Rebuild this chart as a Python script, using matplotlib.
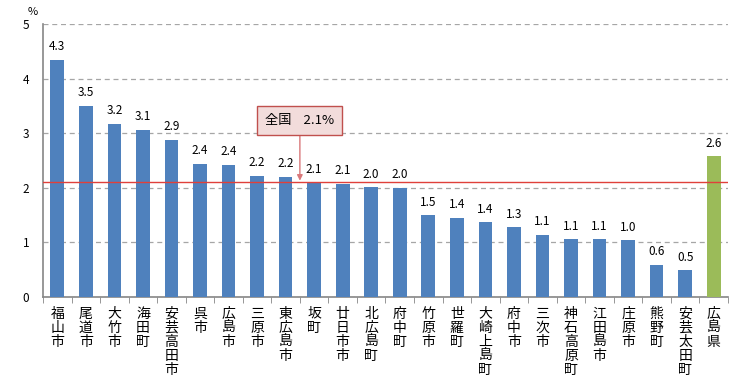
import numpy as np
import matplotlib.pyplot as plt
from matplotlib.ticker import FixedLocator

plt.rcParams['font.family'] = ['Noto Sans CJK JP', 'DejaVu Sans']

# データ
names = ['福山市', '尾道市', '大竹市', '海田町', '安芸高田市', '呉市', '広島市', '三原市',
         '東広島市', '坂町', '廿日市市', '北広島町', '府中町', '竹原市', '世羅町', '大崎上島町',
         '府中市', '三次市', '神石高原町', '江田島市', '庄原市', '熊野町', '安芸太田町', '広島県']
values = [4.34, 3.50, 3.17, 3.06, 2.88, 2.44, 2.42, 2.22, 2.20, 2.10, 2.07, 2.01, 2.00,
          1.50, 1.45, 1.37, 1.28, 1.14, 1.06, 1.06, 1.04, 0.59, 0.49, 2.58]
labels = ['4.3', '3.5', '3.2', '3.1', '2.9', '2.4', '2.4', '2.2', '2.2', '2.1', '2.1', '2.0', '2.0',
          '1.5', '1.4', '1.4', '1.3', '1.1', '1.1', '1.1', '1.0', '0.6', '0.5', '2.6']
national = 2.1

blue = '#4f81bd'
green = '#9bbb59'
colors = [blue] * (len(values) - 1) + [green]

fig = plt.figure(figsize=(7.56, 3.79), dpi=100)
ax = fig.add_axes([43 / 756, 1 - 297 / 379, (728 - 43) / 756, (297 - 24) / 379])

x = np.arange(len(values))
ax.bar(x, values, width=0.48, color=colors, zorder=3)
for xi, v, s in zip(x, values, labels):
    ax.text(xi, v + 0.12, s, ha='center', va='bottom', fontsize=8.5, zorder=4)

ax.axhline(national, color='#e0403a', lw=1, zorder=4)

ax.set_xlim(-0.5, len(values) - 0.5)
ax.set_ylim(0, 5)
ax.set_yticks([0, 1, 2, 3, 4, 5])
ax.yaxis.grid(True, color='#a6a6a6', ls=(0, (4, 3)), lw=0.9, zorder=0)
ax.tick_params(axis='y', length=0, labelsize=8.5, pad=10)

ax.set_xticks(x)
ax.set_xticklabels(['\n'.join(n) for n in names], fontsize=10, linespacing=1.0, va='top')
ax.tick_params(axis='x', length=0, pad=7)
ax.xaxis.set_minor_locator(FixedLocator(np.arange(-0.5, len(values), 1)))
ax.tick_params(axis='x', which='minor', length=4, color='#868686', direction='out')

for sp in ['top', 'right']:
    ax.spines[sp].set_visible(False)
for sp in ['left', 'bottom']:
    ax.spines[sp].set_color('#868686')
    ax.spines[sp].set_linewidth(1.2)

ax.text(-0.85, 5.12, '%', fontsize=8, ha='center', va='bottom')

# 全国 注記
ax.annotate('全国    2.1%', xy=(8.5, national + 0.03), xytext=(8.5, 3.24),
            ha='center', va='center', fontsize=9.5,
            bbox=dict(boxstyle='square,pad=0.6', fc='#f2dcdb', ec='#c0504d', lw=1),
            arrowprops=dict(arrowstyle='-|>', color='#d9787a', lw=1, mutation_scale=8,
                            shrinkA=0, shrinkB=0),
            zorder=5)

fig.savefig('out.png', dpi=100)
